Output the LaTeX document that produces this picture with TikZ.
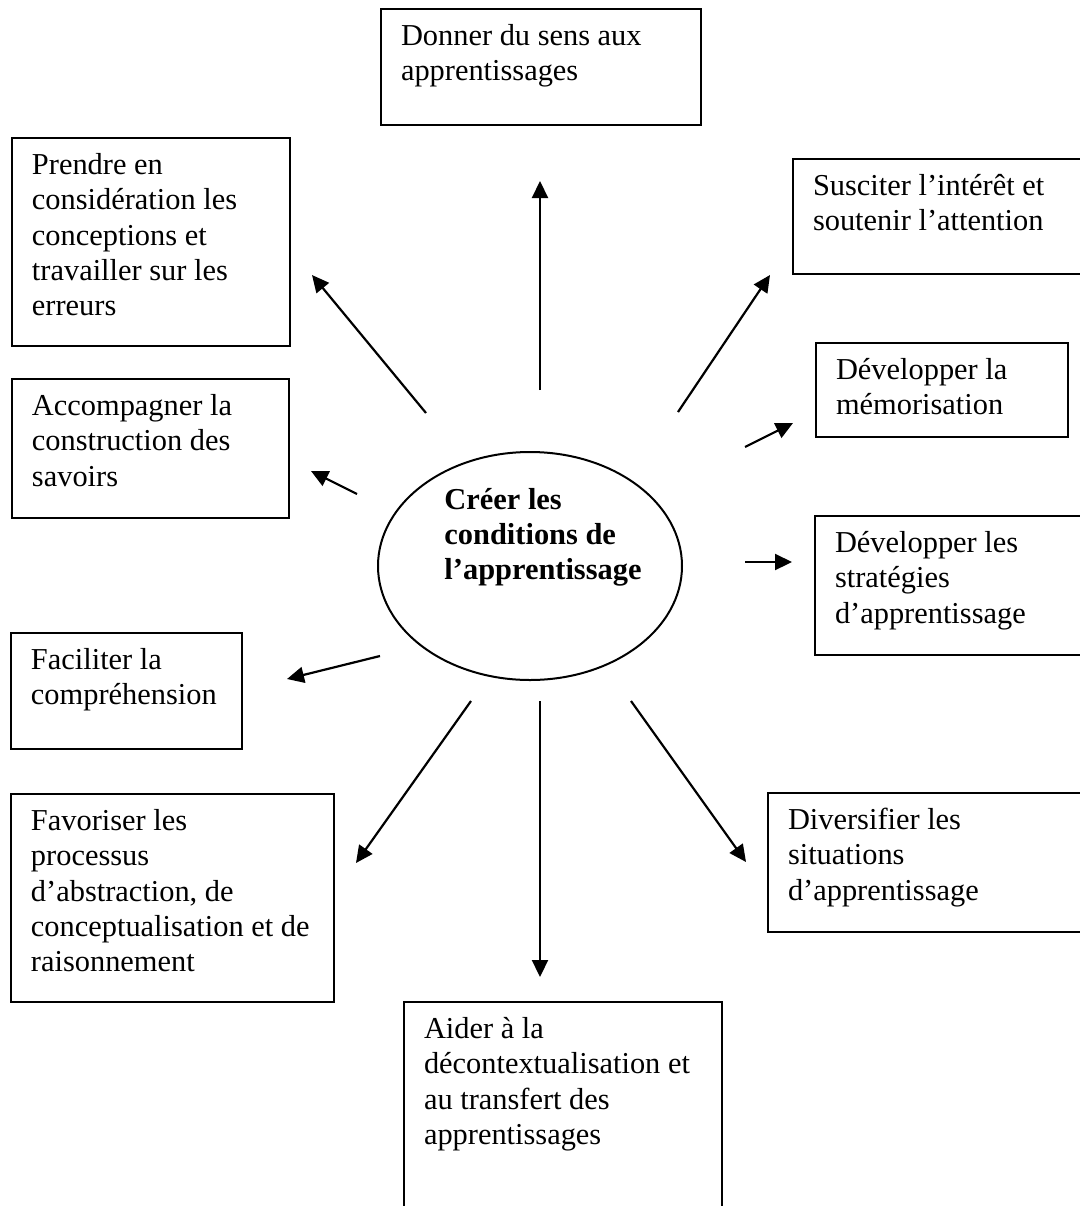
\documentclass[tikz,border=0pt]{standalone}
\usepackage{fontspec}
\setmainfont{Liberation Serif}
\usepackage{tikz}
\usetikzlibrary{shapes.geometric,arrows.meta}

\begin{document}
\begin{tikzpicture}[x=0.5pt, y=-0.5pt,
    font=\fontsize{15.2}{17.6}\selectfont,
    cadre/.style={draw, line width=1pt, anchor=north west, inner xsep=10pt, inner ysep=6pt},
    fleche/.style={line width=1.1pt, -{Triangle[length=8.5pt, width=8pt]}}]
        \useasboundingbox (0,0) rectangle (1080,1206);

        % centre
        \node (centre) [draw, ellipse, line width=1pt, minimum width=152pt, minimum height=114pt] at (530,566) {};
        \node (titre) [align=left, font=\fontsize{15.2}{17.6}\selectfont\bfseries] at (543,537) {Créer les\\conditions de\\l’apprentissage};

        % boxes
        \node (donner) [cadre] at (380,8) {\parbox[t][46pt][t]{140pt}{\strut Donner du sens aux\\apprentissages}};
        \node (prendre) [cadre] at (11,137) {\parbox[t][92pt][t]{119pt}{\strut Prendre en\\considération les\\conceptions et\\travailler sur les\\erreurs}};
        \node (susciter) [cadre] at (792,158) {\parbox[t][45.5pt][t]{129pt}{\strut Susciter l’intérêt et\\soutenir l’attention}};
        \node (memo) [cadre] at (815,342) {\parbox[t][35pt][t]{106pt}{\strut Développer la\\mémorisation}};
        \node (accomp) [cadre] at (11,378) {\parbox[t][57.5pt][t]{118.5pt}{\strut Accompagner la\\construction des\\savoirs}};
        \node (strat) [cadre] at (814,515) {\parbox[t][57.5pt][t]{118pt}{\strut Développer les\\stratégies\\d’apprentissage}};
        \node (facil) [cadre] at (10,632) {\parbox[t][46pt][t]{95.5pt}{\strut Faciliter la\\compréhension}};
        \node (favor) [cadre] at (10,793) {\parbox[t][92pt][t]{141.5pt}{\strut Favoriser les\\processus\\d’abstraction, de\\conceptualisation et de\\raisonnement}};
        \node (divers) [cadre] at (767,792) {\parbox[t][57.5pt][t]{141.5pt}{\strut Diversifier les\\situations\\d’apprentissage}};
        \node (aider) [cadre] at (403,1001) {\parbox[t][110pt][t]{139pt}{\strut Aider à la\\décontextualisation et\\au transfert des\\apprentissages}};

        % arrow ends
        \coordinate (donner-a) at (540,390);  \coordinate (donner-b) at (540,181);
        \coordinate (prendre-a) at (426,413); \coordinate (prendre-b) at (312,275);
        \coordinate (susciter-a) at (678,412); \coordinate (susciter-b) at (770,275);
        \coordinate (memo-a) at (745,447);    \coordinate (memo-b) at (793,423);
        \coordinate (strat-a) at (745,562);   \coordinate (strat-b) at (792,562);
        \coordinate (accomp-a) at (357,494);  \coordinate (accomp-b) at (311,471);
        \coordinate (facil-a) at (380,656);   \coordinate (facil-b) at (287,679);
        \coordinate (favor-a) at (471,701);   \coordinate (favor-b) at (356,863);
        \coordinate (aider-a) at (540,701);   \coordinate (aider-b) at (540,977);
        \coordinate (divers-a) at (631,701);  \coordinate (divers-b) at (746,862);

        \draw [fleche] (donner-a) -- (donner-b);
        \draw [fleche] (prendre-a) -- (prendre-b);
        \draw [fleche] (susciter-a) -- (susciter-b);
        \draw [fleche] (memo-a) -- (memo-b);
        \draw [fleche] (strat-a) -- (strat-b);
        \draw [fleche] (accomp-a) -- (accomp-b);
        \draw [fleche] (facil-a) -- (facil-b);
        \draw [fleche] (favor-a) -- (favor-b);
        \draw [fleche] (aider-a) -- (aider-b);
        \draw [fleche] (divers-a) -- (divers-b);
    \end{tikzpicture}
\end{document}
